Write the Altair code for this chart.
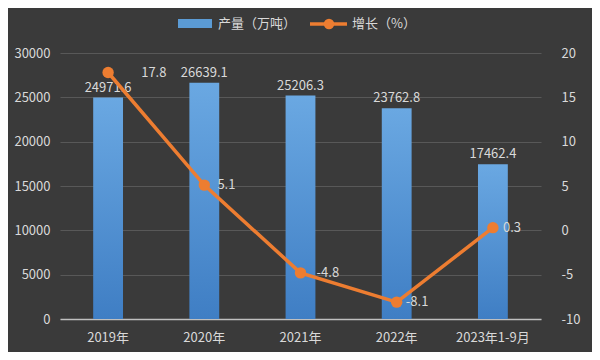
import altair as alt
import pandas as pd

years = ["2019年", "2020年", "2021年", "2022年", "2023年1-9月"]
output = [24971.6, 26639.1, 25206.3, 23762.8, 17462.4]
growth = [17.8, 5.1, -4.8, -8.1, 0.3]
growth_label_shift = [38, 18, 21, 14, 15]

df = pd.DataFrame({"year": years, "output": output, "growth": growth, "shift": growth_label_shift})
df["output_label"] = df["output"].map(lambda v: f"{v:.1f}")
df["growth_label"] = df["growth"].map(lambda v: f"{v:.1f}")

FONT = "Noto Sans CJK SC"
TXT = "#d9d9d9"

x_enc = alt.X("year:N", sort=years, title=None,
              scale=alt.Scale(paddingInner=0.69, paddingOuter=0.345),
              axis=alt.Axis(labelAngle=0, labelColor=TXT, labelFontSize=13, labelFont=FONT,
                            domainColor="#bfbfbf", domainWidth=1.5, ticks=False, labelPadding=12))

base = alt.Chart(df)

yl = alt.Y("output:Q", title=None, scale=alt.Scale(domain=[0, 30000]),
           axis=alt.Axis(values=[0, 5000, 10000, 15000, 20000, 25000, 30000], format="d",
                         labelColor=TXT, labelFontSize=13, labelFont=FONT, gridColor="#585858",
                         gridWidth=1, domain=False, ticks=False, labelPadding=10))

bars = base.mark_bar(
    color=alt.Gradient(gradient="linear", x1=0, y1=0, x2=0, y2=1,
                       stops=[alt.GradientStop(color="#6aa8e2", offset=0),
                              alt.GradientStop(color="#3f7ec4", offset=1)])
).encode(x=x_enc, y=yl)
bar_text = base.mark_text(dy=-10, color=TXT, fontSize=13, font=FONT).encode(
    x=alt.X("year:N", sort=years), y=yl, text="output_label:N")

left = alt.layer(bars, bar_text)

yg = alt.Y("growth:Q", title=None, scale=alt.Scale(domain=[-10, 20]),
           axis=alt.Axis(orient="right", values=[-10, -5, 0, 5, 10, 15, 20], labelColor=TXT,
                         labelExpr="toString(datum.value)",
                         labelFontSize=13, labelFont=FONT, grid=False, domain=False,
                         ticks=False, labelPadding=20))
line = base.mark_line(color="#ed7d31", strokeWidth=3.5).encode(x=alt.X("year:N", sort=years), y=yg)
pts = base.mark_point(filled=True, color="#ed7d31", size=130, opacity=1).encode(
    x=alt.X("year:N", sort=years), y=yg)
g_text = base.mark_text(align="left", dx=10, color=TXT, fontSize=13, font=FONT).encode(
    x=alt.X("year:N", sort=years), y=yg, text="growth_label:N",
    xOffset=alt.XOffset("shift:Q", scale=None))
right = alt.layer(line, pts, g_text)

# legend
leg_df = pd.DataFrame({"a": [0]})
leg_rect = alt.Chart(leg_df).mark_rect(color="#5b9bd5").encode(
    x=alt.value(118), x2=alt.value(152), y=alt.value(-34), y2=alt.value(-25))
leg_t1 = alt.Chart(leg_df).mark_text(align="left", baseline="middle", color=TXT, fontSize=13, font=FONT).encode(
    x=alt.value(158), y=alt.value(-29), text=alt.value("产量（万吨）"))
leg_line = alt.Chart(leg_df).mark_rule(color="#ed7d31", strokeWidth=3.5).encode(
    x=alt.value(250), x2=alt.value(287), y=alt.value(-29))
leg_pt = alt.Chart(leg_df).mark_point(filled=True, color="#ed7d31", size=110, opacity=1).encode(
    x=alt.value(269), y=alt.value(-29))
leg_t2 = alt.Chart(leg_df).mark_text(align="left", baseline="middle", color=TXT, fontSize=13, font=FONT).encode(
    x=alt.value(292), y=alt.value(-29), text=alt.value("增长（%）"))

chart = alt.layer(left, right, leg_rect, leg_t1, leg_line, leg_pt, leg_t2).resolve_scale(
    y="independent"
).properties(
    width=481, height=266,
    autosize=alt.AutoSizeParams(type="none"),
    padding={"left": 52, "top": 45, "right": 51, "bottom": 33},
    background="#3a3a3a",
).configure_view(stroke=None)

chart.save("out.html", embed_options={"renderer": "svg", "actions": False})
